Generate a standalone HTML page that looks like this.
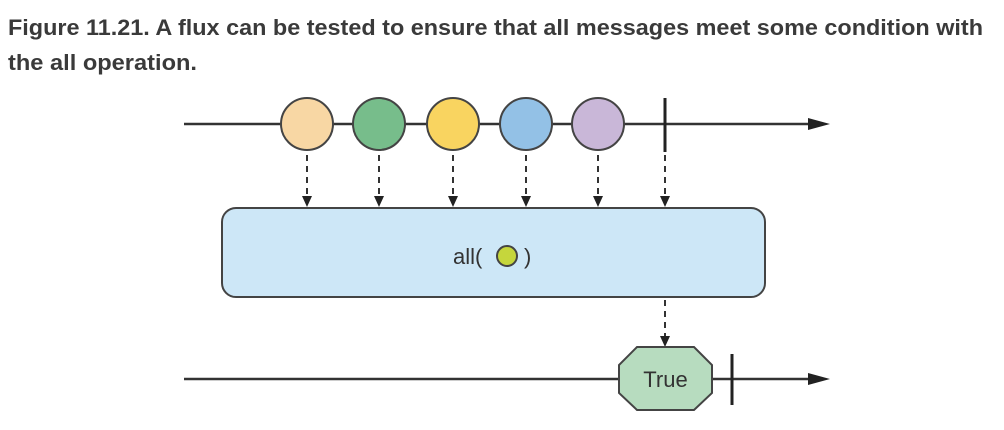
<!DOCTYPE html>
<html><head><meta charset="utf-8"><style>
html,body{margin:0;padding:0;background:#fff;}
svg{display:block;}
</style></head><body>
<svg width="1004" height="430" viewBox="0 0 1004 430" xmlns="http://www.w3.org/2000/svg">
<defs>
<marker id="ah" markerWidth="8" markerHeight="10" refX="4" refY="10" orient="auto" markerUnits="userSpaceOnUse"></marker>
</defs>
<g font-family="Liberation Sans, sans-serif" font-weight="bold" fill="#3a3a3a" font-size="22">
<text x="8" y="35" textLength="975" lengthAdjust="spacingAndGlyphs">Figure 11.21. A flux can be tested to ensure that all messages meet some condition with</text>
<text x="8" y="70" textLength="189" lengthAdjust="spacingAndGlyphs">the all operation.</text>
</g>
<!-- top line -->
<line x1="184" y1="124" x2="812" y2="124" stroke="#333" stroke-width="2.5"/>
<polygon points="808,118 830,124 808,130" fill="#222"/>
<g stroke="#444" stroke-width="2">
<circle cx="307" cy="124" r="26" fill="#f8d7a4"/>
<circle cx="379" cy="124" r="26" fill="#77bd8b"/>
<circle cx="453" cy="124" r="26" fill="#f9d460"/>
<circle cx="526" cy="124" r="26" fill="#93c1e6"/>
<circle cx="598" cy="124" r="26" fill="#c9b7d8"/>
</g>
<line x1="665" y1="98" x2="665" y2="152" stroke="#222" stroke-width="3"/>
<!-- dashed arrows -->
<g stroke="#333" stroke-width="2" stroke-dasharray="6,5">
<line x1="307" y1="155" x2="307" y2="196"/>
<line x1="379" y1="155" x2="379" y2="196"/>
<line x1="453" y1="155" x2="453" y2="196"/>
<line x1="526" y1="155" x2="526" y2="196"/>
<line x1="598" y1="155" x2="598" y2="196"/>
<line x1="665" y1="155" x2="665" y2="196"/>
<line x1="665" y1="300" x2="665" y2="336"/>
</g>
<g fill="#222">
<polygon points="302,196 312,196 307,207"/>
<polygon points="374,196 384,196 379,207"/>
<polygon points="448,196 458,196 453,207"/>
<polygon points="521,196 531,196 526,207"/>
<polygon points="593,196 603,196 598,207"/>
<polygon points="660,196 670,196 665,207"/>
<polygon points="660,336 670,336 665,347"/>
</g>
<!-- box -->
<rect x="222" y="208" width="543" height="89" rx="14" fill="#cde7f7" stroke="#444" stroke-width="2"/>
<text x="453" y="264" font-family="Liberation Sans, sans-serif" font-size="22" fill="#333">all(</text>
<circle cx="507" cy="256" r="10" fill="#c5d63c" stroke="#444" stroke-width="2"/>
<text x="524" y="264" font-family="Liberation Sans, sans-serif" font-size="22" fill="#333">)</text>
<!-- bottom line -->
<line x1="184" y1="379" x2="812" y2="379" stroke="#333" stroke-width="2.5"/>
<polygon points="808,373 830,379 808,385" fill="#222"/>
<polygon points="637,347 694,347 712,365 712,393 694,410 637,410 619,393 619,365" fill="#b7dcbf" stroke="#444" stroke-width="2"/>
<text x="665.5" y="387" text-anchor="middle" font-family="Liberation Sans, sans-serif" font-size="22" fill="#333">True</text>
<line x1="732" y1="354" x2="732" y2="405" stroke="#222" stroke-width="3"/>
</svg>
</body></html>
